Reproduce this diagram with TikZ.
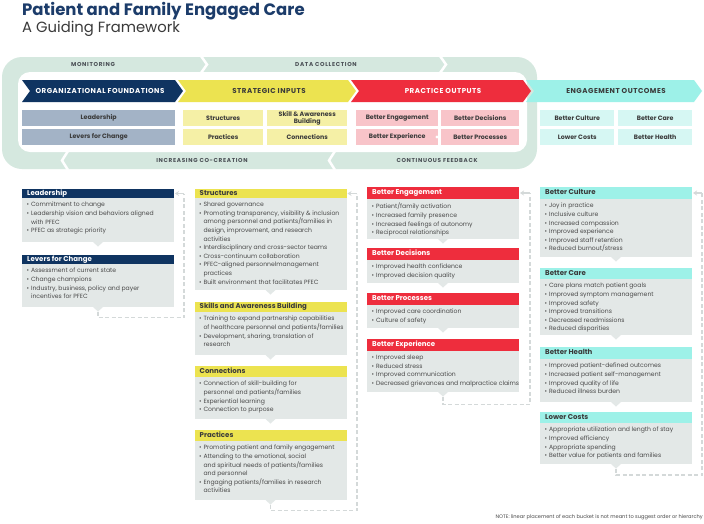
\documentclass[tikz,border=0pt]{standalone}
\usepackage{fontspec}
\setmainfont{Poppins}
\newfontfamily\chevfont[LetterSpace=7]{Poppins}
\newfontfamily\bandfont[LetterSpace=12]{Poppins}
\usetikzlibrary{arrows.meta}

\definecolor{navy}{HTML}{0F3461}
\definecolor{titleblue}{HTML}{1C3C6A}
\definecolor{ylw}{HTML}{ECE350}
\definecolor{paleylw}{HTML}{F5F0A6}
\definecolor{rd}{HTML}{EE2D3D}
\definecolor{pink}{HTML}{F8C4C9}
\definecolor{aqua}{HTML}{9DF1E8}
\definecolor{paleaqua}{HTML}{D6F7F3}
\definecolor{grayblue}{HTML}{A3B3C6}
\definecolor{loopgreen}{HTML}{D5E8DF}
\definecolor{cardgray}{HTML}{E3E8E7}
\definecolor{dashgray}{HTML}{D4D9D9}
\definecolor{txt}{HTML}{3A3A3A}
\definecolor{bodytxt}{HTML}{4A4A4A}
\definecolor{bandtxt}{HTML}{4A4F55}

\tikzset{
  hdrtext/.style={inner sep=0pt, font=\fontsize{7}{8}\selectfont\bfseries, text height=5pt, text depth=1.3pt},
  bodytext/.style={inner sep=0pt, font=\fontsize{6.1}{8.6}\selectfont, text=bodytxt, align=left},
  subbox/.style={inner sep=0pt, anchor=north west, minimum height=16pt, font=\fontsize{6.3}{6.6}\selectfont\bfseries, text=txt, align=center},
  chevtext/.style={font=\chevfont\fontsize{7.1}{8}\selectfont\bfseries, inner sep=0pt},
  bandtext/.style={font=\bandfont\fontsize{5.7}{6}\selectfont\bfseries, text=bandtxt, inner sep=0pt},
  loopline/.style={draw=dashgray, line width=1.8pt, dash pattern=on 4pt off 2.5pt},
  looparrow/.style={draw=dashgray, line width=1.2pt, -{Stealth[length=4pt,width=5pt]}},
  sep/.style={draw=white, line width=2.5pt},
}

\newcommand\bi[1]{\textbullet\hspace{1.8pt}#1}
\newcommand\ci[1]{\phantom{\textbullet}\hspace{1.8pt}#1}

% #1 name, #2 x1, #3 y1, #4 header bottom, #5 body bottom, #6 fill, #7 title colour, #8 title, #9 body
\newcommand\card[9]{%
  \fill[#6] (#2,#3) rectangle (#2+152,#4);
  \fill[cardgray] (#2,#4) rectangle (#2+152,#5);
  \fill[cardgray] (#2+71,#5) -- (#2+76,#5+4.5) -- (#2+81,#5) -- cycle;
  \node[hdrtext, text=#7, anchor=west] (#1-t) at (#2+5,{(#3+#4)/2}) {#8};
  \node[bodytext, anchor=north west] (#1-b) at (#2+4.5,#4+4) {#9};
  \coordinate (#1-tip) at (#2+76,#5+4.5);
  \coordinate (#1-e) at (#2+152,{(#3+#4)/2});
}

\newcommand\chev[3]{%
  \fill[#3] (#1,80) -- (#2-8,80) -- (#2,91) -- (#2-8,102) -- (#1,102) -- (#1+8,91) -- cycle;
}

\begin{document}
\begin{tikzpicture}[x=1pt,y=-1pt]
\useasboundingbox (0,0) rectangle (704,523);
\fill[white] (0,0) rectangle (704,523);

% title
\node[anchor=base west, inner sep=0pt, font=\fontsize{16.5}{18}\selectfont\bfseries, text=titleblue] (title) at (22,15) {Patient and Family Engaged Care};
\node[anchor=base west, inner sep=0pt, font=\fontsize{14.8}{16}\selectfont, text=txt] (subtitle) at (22,32) {A Guiding Framework};

% loop band
\fill[loopgreen, rounded corners=20pt] (2,57) rectangle (537,169);
\fill[white, rounded corners=12pt] (18,72) rectangle (527,152);
\draw[sep] (201,56) -- (207,64.5) -- (201,73);
\draw[sep] (440,56) -- (446,64.5) -- (440,73);
\draw[sep] (68,151) -- (62,160.5) -- (68,170);
\draw[sep] (335,151) -- (329,160.5) -- (335,170);
\node[bandtext] (mon) at (93,64.5) {MONITORING};
\node[bandtext] (data) at (326,64.5) {DATA COLLECTION};
\node[bandtext] (cocr) at (202,160.5) {INCREASING CO-CREATION};
\node[bandtext] (feed) at (437,160.5) {CONTINUOUS FEEDBACK};

% chevrons
\chev{22}{183}{navy}
\chev{178}{356}{ylw}
\chev{351}{531}{rd}
\chev{526}{702}{aqua}
\node[chevtext, text=white] (orgf) at (100,91) {ORGANIZATIONAL FOUNDATIONS};
\node[chevtext, text=txt] (strat) at (269,91) {STRATEGIC INPUTS};
\node[chevtext, text=white] (pract) at (443,91) {PRACTICE OUTPUTS};
\node[chevtext, text=txt] (engo) at (616,91) {ENGAGEMENT OUTCOMES};

% sub boxes
\node[subbox, fill=grayblue, minimum width=153pt] (sb-lead) at (22,110) {Leadership};
\node[subbox, fill=grayblue, minimum width=153pt] (sb-lev) at (22,129) {Levers for Change};
\node[subbox, fill=paleylw, minimum width=80pt] (sb-str) at (183,110) {Structures};
\node[subbox, fill=paleylw, minimum width=80pt] (sb-ski) at (267,110) {Skill \& Awareness\\Building};
\node[subbox, fill=paleylw, minimum width=80pt] (sb-pra) at (183,129) {Practices};
\node[subbox, fill=paleylw, minimum width=80pt] (sb-con) at (267,129) {Connections};
\node[subbox, fill=pink, minimum width=82pt] (sb-eng) at (356,110) {Better Engagement};
\node[subbox, fill=pink, minimum width=78pt] (sb-dec) at (441,110) {Better Decisions};
\node[subbox, fill=pink, minimum width=82pt] (sb-exp) at (356,129) {Better Experience};
\node[subbox, fill=pink, minimum width=78pt] (sb-pro) at (441,129) {Better Processes};
\node[subbox, fill=paleaqua, minimum width=74pt] (sb-cul) at (540,110) {Better Culture};
\node[subbox, fill=paleaqua, minimum width=74pt] (sb-car) at (618,110) {Better Care};
\node[subbox, fill=paleaqua, minimum width=74pt] (sb-cos) at (540,129) {Lower Costs};
\node[subbox, fill=paleaqua, minimum width=74pt] (sb-hea) at (618,129) {Better Health};
\foreach \p in {(98,127.5),(222,127.5),(265,137),(437,137),(480,127.5),(575,127.5),(653,127.5),(616,137)}
  \fill[white] \p circle (1.6pt);

% column 1
\card{lead}{22}{189}{198}{242}{navy}{white}{Leadership}{%
\bi{Commitment to change}\\
\bi{Leadership vision and behaviors aligned}\\
\ci{with PFEC}\\
\bi{PFEC as strategic priority}}
\card{lev}{22}{255}{264}{307}{navy}{white}{Levers for Change}{%
\bi{Assessment of current state}\\
\bi{Change champions}\\
\bi{Industry, business, policy and payer}\\
\ci{incentives for PFEC}}

% column 2
\card{str}{194.5}{189}{198}{290}{ylw}{txt}{Structures}{%
\bi{Shared governance}\\
\bi{Promoting transparency, visibility \& inclusion}\\
\ci{among personnel and patients/families in}\\
\ci{design, improvement, and research}\\
\ci{activities}\\
\bi{Interdisciplinary and cross-sector teams}\\
\bi{Cross-continuum collaboration}\\
\bi{PFEC-aligned personnelmanagement}\\
\ci{practices}\\
\bi{Built environment that facilitates PFEC}}
\card{ski}{194.5}{302}{312}{355}{ylw}{txt}{Skills and Awareness Building}{%
\bi{Training to expand partnership capabilities}\\
\ci{of healthcare personnel and patients/families}\\
\bi{Development, sharing, translation of}\\
\ci{research}}
\card{con}{194.5}{366}{377}{419}{ylw}{txt}{Connections}{%
\bi{Connection of skill-building for}\\
\ci{personnel and patients/families}\\
\bi{Experiential learning}\\
\bi{Connection to purpose}}
\card{pra}{194.5}{430}{441}{500}{ylw}{txt}{Practices}{%
\bi{Promoting patient and family engagement}\\
\bi{Attending to the emotional, social}\\
\ci{and spiritual needs of patients/families}\\
\ci{and personnel}\\
\bi{Engaging patients/families in research}\\
\ci{activities}}

% column 3
\card{eng}{367}{187}{199}{239}{rd}{white}{Better Engagement}{%
\bi{Patient/family activation}\\
\bi{Increased family presence}\\
\bi{Increased feelings of autonomy}\\
\bi{Reciprocal relationships}}
\card{dec}{367}{248}{260}{283}{rd}{white}{Better Decisions}{%
\bi{Improved health confidence}\\
\bi{Improved decision quality}}
\card{pro}{367}{293}{305}{328}{rd}{white}{Better Processes}{%
\bi{Improved care coordination}\\
\bi{Culture of safety}}
\card{exp}{367}{339}{351}{392}{rd}{white}{Better Experience}{%
\bi{Improved sleep}\\
\bi{Reduced stress}\\
\bi{Improved communication}\\
\bi{Decreased grievances and malpractice claims}}

% column 4
\card{cul}{540}{187}{199}{257}{aqua}{txt}{Better Culture}{%
\bi{Joy in practice}\\
\bi{Inclusive culture}\\
\bi{Increased compassion}\\
\bi{Improved experience}\\
\bi{Improved staff retention}\\
\bi{Reduced burnout/stress}}
\card{car}{540}{268}{279}{335}{aqua}{txt}{Better Care}{%
\bi{Care plans match patient goals}\\
\bi{Improved symptom management}\\
\bi{Improved safety}\\
\bi{Improved transitions}\\
\bi{Decreased readmissions}\\
\bi{Reduced disparities}}
\card{hea}{540}{347}{359}{402}{aqua}{txt}{Better Health}{%
\bi{Improved patient-defined outcomes}\\
\bi{Increased patient self-management}\\
\bi{Improved quality of life}\\
\bi{Reduced illness burden}}
\card{cos}{540}{412}{423}{464}{aqua}{txt}{Lower Costs}{%
\bi{Appropriate utilization and length of stay}\\
\bi{Improved efficiency}\\
\bi{Appropriate spending}\\
\bi{Better value for patients and families}}

% dashed loops
\draw[loopline] (lev-tip) -- ++(0,6) -| ([xshift=10pt]lead-e);
\draw[looparrow] ([xshift=10pt]lead-e) -- ([xshift=1pt]lead-e);
\draw[loopline] (pra-tip) -- ++(0,6) -| ([xshift=10.5pt]str-e);
\draw[looparrow] ([xshift=10.5pt]str-e) -- ([xshift=1pt]str-e);
\draw[loopline] (exp-tip) -- ++(0,8) -| ([xshift=11pt]eng-e);
\draw[looparrow] ([xshift=11pt]eng-e) -- ([xshift=1pt]eng-e);
\draw[loopline] (cos-tip) -- ++(0,6.5) -| ([xshift=10pt]cul-e);
\draw[looparrow] ([xshift=10pt]cul-e) -- ([xshift=1pt]cul-e);

% note
\node[anchor=base east, inner sep=0pt, font=\fontsize{5.1}{6}\selectfont, text=bodytxt] (note) at (703,518) {NOTE: linear placement of each bucket is not meant to suggest order or hierarchy};
\end{tikzpicture}
\end{document}
